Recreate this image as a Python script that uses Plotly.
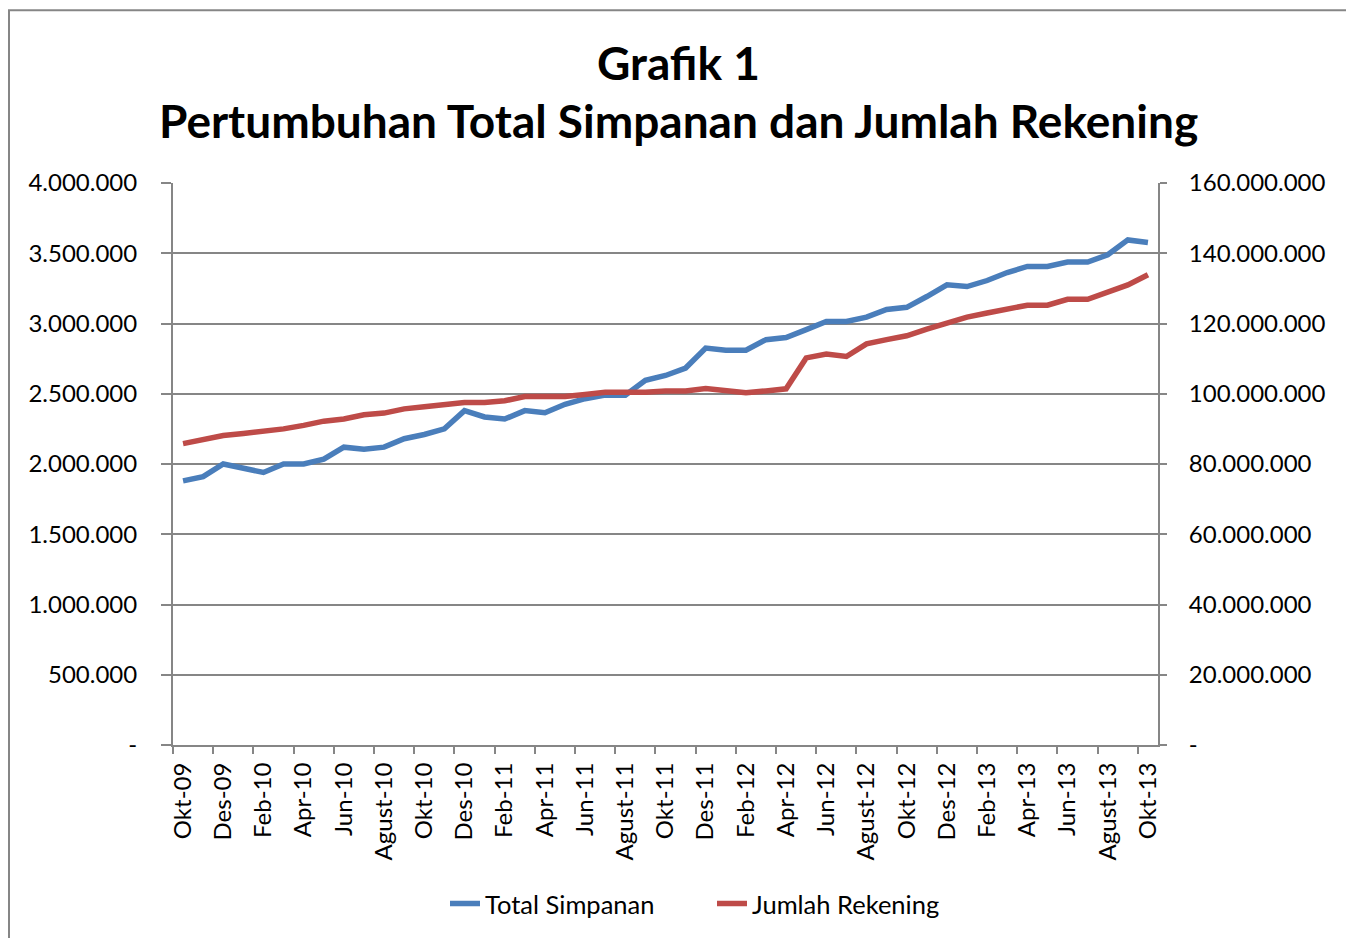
import plotly.graph_objects as go

months = [
    "Okt-09", "Nov-09", "Des-09",
    "Jan-10", "Feb-10", "Mar-10", "Apr-10", "Mei-10", "Jun-10", "Jul-10", "Agust-10", "Sep-10", "Okt-10", "Nov-10", "Des-10",
    "Jan-11", "Feb-11", "Mar-11", "Apr-11", "Mei-11", "Jun-11", "Jul-11", "Agust-11", "Sep-11", "Okt-11", "Nov-11", "Des-11",
    "Jan-12", "Feb-12", "Mar-12", "Apr-12", "Mei-12", "Jun-12", "Jul-12", "Agust-12", "Sep-12", "Okt-12", "Nov-12", "Des-12",
    "Jan-13", "Feb-13", "Mar-13", "Apr-13", "Mei-13", "Jun-13", "Jul-13", "Agust-13", "Sep-13", "Okt-13",
]

total_simpanan = [
    1880000, 1910000, 2000000, 1970000, 1940000, 2000000, 2000000, 2035000, 2120000, 2105000,
    2120000, 2180000, 2210000, 2250000, 2380000, 2335000, 2320000, 2380000, 2365000, 2425000,
    2465000, 2490000, 2490000, 2595000, 2630000, 2683000, 2825000, 2810000, 2810000, 2885000,
    2900000, 2956000, 3015000, 3015000, 3045000, 3100000, 3115000, 3192000, 3275000, 3263000,
    3306000, 3363000, 3406000, 3406000, 3437000, 3437000, 3489000, 3595000, 3576000,
]

jumlah_rekening_juta = [
    85.8, 87.0, 88.1, 88.7, 89.2, 90.0, 91.0, 92.2, 92.8, 94.0,
    94.5, 95.7, 96.3, 96.8, 97.5, 97.5, 98.0, 99.2, 99.2, 99.2,
    99.8, 100.4, 100.4, 100.4, 100.8, 100.8, 101.5, 101.0, 100.3, 100.8,
    101.4, 110.2, 111.3, 110.6, 114.2, 115.4, 116.5, 118.4, 120.1, 121.8,
    123.0, 124.1, 125.2, 125.2, 126.9, 126.9, 128.8, 131.0, 133.9,
]
jumlah_rekening = [v * 1_000_000 for v in jumlah_rekening_juta]

left_ticks = [0, 500000, 1000000, 1500000, 2000000, 2500000, 3000000, 3500000, 4000000]
left_labels = ["-", "500.000", "1.000.000", "1.500.000", "2.000.000", "2.500.000", "3.000.000", "3.500.000", "4.000.000"]
right_ticks = [0, 20e6, 40e6, 60e6, 80e6, 100e6, 120e6, 140e6, 160e6]
right_labels = ["-", "20.000.000", "40.000.000", "60.000.000", "80.000.000", "100.000.000", "120.000.000", "140.000.000", "160.000.000"]

title_line1 = "Grafik 1"
title_line2 = "Pertumbuhan Total Simpanan dan Jumlah Rekening"

FONT = "Lato"
GRID = "#868686"
BLUE = "#4A7EBB"
RED = "#BE4B48"

x = list(range(len(months)))
tick_pos = x[::2]
tick_text = months[::2]
boundary_ticks = [i - 0.5 for i in tick_pos]

fig = go.Figure()
fig.add_trace(go.Scatter(
    x=x, y=total_simpanan, name="Total Simpanan", mode="lines",
    line=dict(color=BLUE, width=5.5), yaxis="y",
))
fig.add_trace(go.Scatter(
    x=x, y=jumlah_rekening, name="Jumlah Rekening", mode="lines",
    line=dict(color=RED, width=5.5), yaxis="y2",
))

# page has an 8px body margin; work in reference pixel coords minus 8
OFF = 8
W, H = 1354 - OFF, 938 - OFF
L, R, T, B = 173 - OFF, 1158 - OFF, 183 - OFF, 746 - OFF
pw, ph = R - L, B - T

def px(xr):
    return (xr - OFF - L) / pw

def py(yr):
    return (B - (yr - OFF)) / ph

fig.update_layout(
    width=W, height=H,
    margin=dict(l=L, r=W - R, t=T, b=H - B),
    paper_bgcolor="white", plot_bgcolor="white",
    font=dict(family=FONT, color="black", size=24),
    showlegend=True,
    legend=dict(
        orientation="h", x=px(712), xanchor="center", y=py(904), yanchor="middle",
        font=dict(size=25.5, family=FONT), entrywidth=222, entrywidthmode="pixels",
        tracegroupgap=0, bgcolor="rgba(0,0,0,0)",
    ),
    xaxis=dict(
        range=[-0.5, len(months) - 0.5],
        tickmode="array", tickvals=tick_pos, ticktext=tick_text,
        tickangle=-90, ticks="", showgrid=False, zeroline=False,
        showline=True, linecolor=GRID, linewidth=2,
        tickfont=dict(size=24, family=FONT),
        ticklabelstandoff=6,
        minor=dict(tickmode="array", tickvals=boundary_ticks, ticks="outside",
                   ticklen=7, tickwidth=2, tickcolor=GRID, showgrid=False),
    ),
    yaxis=dict(
        range=[0, 4000000], tickmode="array", tickvals=left_ticks, ticktext=left_labels,
        showgrid=True, gridcolor=GRID, gridwidth=2, zeroline=False,
        showline=True, linecolor=GRID, linewidth=2,
        ticks="outside", ticklen=10, tickwidth=2, tickcolor=GRID,
        tickfont=dict(size=24, family=FONT), ticklabelstandoff=19,
    ),
    yaxis2=dict(
        range=[0, 160e6], tickmode="array", tickvals=right_ticks, ticktext=right_labels,
        overlaying="y", side="right", showgrid=False, zeroline=False,
        showline=True, linecolor=GRID, linewidth=2,
        ticks="outside", ticklen=7, tickwidth=2, tickcolor=GRID,
        tickfont=dict(size=24, family=FONT), ticklabelstandoff=17,
    ),
    annotations=[
        dict(text=title_line1, x=px(678), y=py(62), xref="paper", yref="paper",
             xanchor="center", yanchor="middle", showarrow=False,
             font=dict(size=46, family=FONT, color="black", weight="bold")),
        dict(text=title_line2, x=px(678), y=py(120), xref="paper", yref="paper",
             xanchor="center", yanchor="middle", showarrow=False,
             font=dict(size=46, family=FONT, color="black", weight="bold")),
    ],
    shapes=[
        dict(type="rect", xref="paper", yref="paper",
             x0=px(9), x1=px(1348), y0=py(990), y1=py(10),
             line=dict(color=GRID, width=2), fillcolor="rgba(0,0,0,0)", layer="below"),
    ],
)

fig.write_html("out.html")
